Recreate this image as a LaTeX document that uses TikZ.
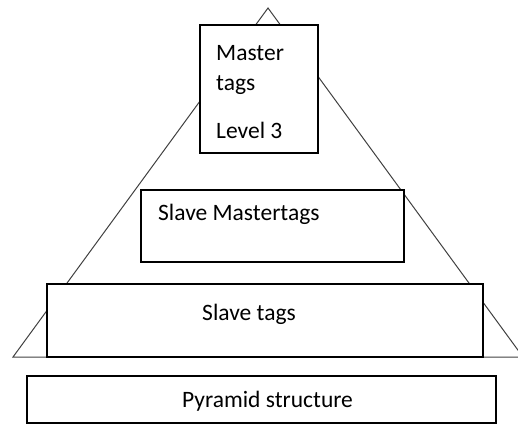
\documentclass[tikz,border=0pt]{standalone}
\usepackage{fontspec}
\setmainfont{Carlito}
\begin{document}
\begin{tikzpicture}[x=1pt,y=-1pt,
  tier/.style={draw=black,line width=1.3pt,fill=white,inner sep=0pt},
  txt/.style={font=\fontsize{23.5}{28}\selectfont,inner sep=0pt},
  edge/.style={draw=black!75,line width=1pt}]
\useasboundingbox (0,0) rectangle (518,426);
% pyramid outline
\coordinate (apex) at (268,8);
\coordinate (bl) at (13,357);
\coordinate (br) at (523,357);
\begin{scope}
\clip (0,0) rectangle (518,426);
\draw[edge] (bl) -- (apex) -- (br) -- cycle;
\end{scope}
% tiers
\node[tier,minimum width=118pt,minimum height=128pt] (master) at (259,89) {};
\node[txt,anchor=base west] (mastertxt) at (216,60) {Master};
\node[txt,anchor=base west] (tagstxt) at (216,90) {tags};
\node[txt,anchor=base west] (leveltxt) at (216,138) {Level 3};
\node[tier,minimum width=263pt,minimum height=72pt] (slavemaster) at (272.5,226) {};
\node[txt,anchor=base west] (slavemastertxt) at (158,220) {Slave Mastertags};
\node[tier,minimum width=436pt,minimum height=73pt] (slave) at (265,320.5) {};
\node[txt,anchor=base] (slavetxt) at (249,320) {Slave tags};
\node[tier,minimum width=469pt,minimum height=47pt] (caption) at (261.5,399.5) {};
\node[txt,anchor=base] (captiontxt) at (267.5,407) {Pyramid structure};
\end{tikzpicture}
\end{document}
